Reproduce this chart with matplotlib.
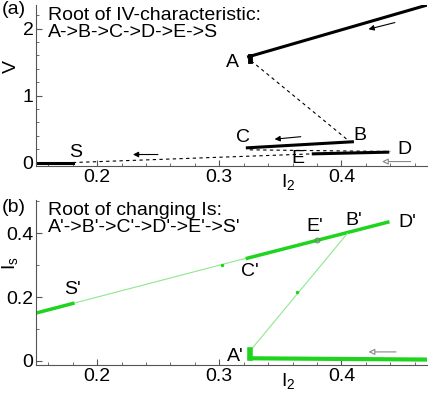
"""IV-characteristic root and changing Is root, two stacked panels."""
import matplotlib
matplotlib.use("Agg")
import matplotlib.pyplot as plt
from matplotlib.ticker import MultipleLocator

plt.rcParams.update({
    "font.family": "sans-serif",
    "font.sans-serif": ["Liberation Sans", "DejaVu Sans"],
    "font.size": 14,
    "mathtext.default": "regular",
})

GREEN = "#1ed41e"
LIGHT = "#8ee88e"

# ---- panel (a): V vs I2 ----
a_AU_x = [0.324, 0.47]          # upper branch from A
a_AU_y = [1.58, 2.35]
a_Ablob_x = [0.325, 0.325]
a_Ablob_y = [1.51, 1.59]
a_AB_x = [0.326, 0.405]         # dashed jump A -> B
a_AB_y = [1.52, 0.34]
a_CB_x = [0.323, 0.409]         # solid C - B
a_CB_y = [0.22, 0.31]
a_CD_x = [0.325, 0.44]          # dashed C -> D
a_CD_y = [0.19, 0.165]
a_ED_x = [0.377, 0.438]         # solid E - D
a_ED_y = [0.13, 0.155]
a_SE_x = [0.18, 0.377]          # dashed S -> E
a_SE_y = [0.0, 0.13]
a_S_x = [0.15, 0.18]            # solid S
a_S_y = [0.0, 0.0]
a_labels = ["A", "B", "C", "D", "E", "S"]
a_lab_x = [0.311, 0.415, 0.319, 0.452, 0.364, 0.182]
a_lab_y = [1.50, 0.40, 0.37, 0.20, 0.06, 0.15]
a_arrows = [((0.446, 2.10), (0.420, 1.98)),
            ((0.369, 0.39), (0.343, 0.345)),
            ((0.252, 0.12), (0.227, 0.12))]
a_open_arrow = ((0.459, 0.015), (0.431, 0.015))

# ---- panel (b): Is vs I2 ----
b_thin_x = [0.15, 0.325]        # thin line S' -> C'
b_thin_y = [0.15, 0.325]
b_S_x = [0.15, 0.18]
b_S_y = [0.15, 0.18]
b_CD_x = [0.323, 0.438]         # thick C' -> D'
b_CD_y = [0.322, 0.435]
b_BA_x = [0.405, 0.326]         # thin B' -> A'
b_BA_y = [0.40, 0.035]
b_Ablob_x = [0.325, 0.325]
b_Ablob_y = [0.008, 0.035]
b_A_x = [0.325, 0.47]           # thick bottom branch
b_A_y = [0.008, 0.004]
b_E_pt = (0.380, 0.380)
b_mid_x = [0.302, 0.364]        # small dots on the thin lines
b_mid_y = [0.302, 0.215]
b_labels = ["A'", "B'", "C'", "D'", "E'", "S'"]
b_lab_x = [0.313, 0.410, 0.325, 0.454, 0.378, 0.18]
b_lab_y = [0.015, 0.44, 0.28, 0.435, 0.42, 0.225]
b_open_arrow = ((0.447, 0.028), (0.420, 0.028))

fig = plt.figure(figsize=(4.36, 3.95), dpi=100)
ax1 = fig.add_axes([0.083, 0.580, 0.896, 0.407])
ax2 = fig.add_axes([0.083, 0.076, 0.896, 0.418])

# panel (a)
ax1.plot(a_AU_x, a_AU_y, color="black", lw=2.2)
ax1.plot(a_Ablob_x, a_Ablob_y, color="black", lw=3.5)
ax1.plot(a_AB_x, a_AB_y, color="black", lw=0.8, ls=(0, (3, 3)))
ax1.plot(a_CB_x, a_CB_y, color="black", lw=2.2)
ax1.plot(a_CD_x, a_CD_y, color="black", lw=0.8, ls=(0, (3, 3)))
ax1.plot(a_ED_x, a_ED_y, color="black", lw=2.2)
ax1.plot(a_SE_x, a_SE_y, color="black", lw=0.8, ls=(0, (3, 3)))
ax1.plot(a_S_x, a_S_y, color="black", lw=2.2)
for t, x, y in zip(a_labels, a_lab_x, a_lab_y):
    ax1.text(x, y, t, ha="center", va="center")
for start, end in a_arrows:
    ax1.annotate("", xy=end, xytext=start,
                 arrowprops=dict(arrowstyle="-|>", color="black", lw=0.8,
                                 mutation_scale=8))
ax1.annotate("", xy=a_open_arrow[1], xytext=a_open_arrow[0],
             arrowprops=dict(arrowstyle="-|>", color="#888888", fc="white",
                             lw=0.8, mutation_scale=9))

ax1.set_xlim(0.15, 0.47)
ax1.set_ylim(-0.05, 2.35)
ax1.yaxis.set_major_locator(MultipleLocator(1))
ax1.yaxis.set_minor_locator(MultipleLocator(0.2))
ax1.set_ylabel("V")
ax1.text(0.03, 0.99, "Root of IV-characteristic:\nA->B->C->D->E->S",
         transform=ax1.transAxes, ha="left", va="top", linespacing=1.0)

# panel (b)
ax2.plot(b_thin_x, b_thin_y, color=LIGHT, lw=0.8)
ax2.plot(b_S_x, b_S_y, color=GREEN, lw=2.5)
ax2.plot(b_CD_x, b_CD_y, color=GREEN, lw=2.5)
ax2.plot(b_BA_x, b_BA_y, color=LIGHT, lw=0.8)
ax2.plot(b_Ablob_x, b_Ablob_y, color=GREEN, lw=4)
ax2.plot(b_A_x, b_A_y, color=GREEN, lw=3)
ax2.plot(b_mid_x, b_mid_y, ls="none", marker="o", ms=1.5, color=GREEN)
ax2.plot(*b_E_pt, marker="o", ms=3.5, mfc="none", mec="#777777", mew=0.7)
for t, x, y in zip(b_labels, b_lab_x, b_lab_y):
    ax2.text(x, y, t, ha="center", va="center")
ax2.annotate("", xy=b_open_arrow[1], xytext=b_open_arrow[0],
             arrowprops=dict(arrowstyle="-|>", color="#888888", fc="white",
                             lw=0.8, mutation_scale=9))

ax2.set_xlim(0.15, 0.47)
ax2.set_ylim(-0.013, 0.505)
ax2.yaxis.set_major_locator(MultipleLocator(0.2))
ax2.yaxis.set_minor_locator(MultipleLocator(0.1))
ax2.set_ylabel("$I_s$")
ax2.text(0.03, 0.99, "Root of changing Is:\nA'->B'->C'->D'->E'->S'",
         transform=ax2.transAxes, ha="left", va="top", linespacing=1.0)

for ax in (ax1, ax2):
    ax.xaxis.set_major_locator(MultipleLocator(0.1))
    ax.xaxis.set_minor_locator(MultipleLocator(0.02))
    ax.xaxis.set_major_formatter(plt.FuncFormatter(lambda v, p: f"{v:.1f}"))
    ax.spines["top"].set_visible(False)
    ax.spines["right"].set_visible(False)
    ax.spines["left"].set_color("#555555")
    ax.spines["bottom"].set_color("#555555")
    ax.tick_params(which="both", direction="in", color="#555555", pad=2)
    ax.tick_params(which="major", length=4)
    ax.tick_params(which="minor", length=2.5)
    ax.set_xlabel("$I_2$")
    ax.yaxis.set_label_coords(-0.042, 0.62)
    ax.xaxis.set_label_coords(0.645, -0.035)
    ax.xaxis.label.set_va("top")

ax1.yaxis.set_major_formatter(plt.FuncFormatter(lambda v, p: f"{v:.0f}"))
ax2.yaxis.set_major_formatter(plt.FuncFormatter(lambda v, p: "0" if v == 0 else f"{v:.1f}"))

fig.text(0.003, 0.997, "(a)", ha="left", va="top")
fig.text(0.003, 0.497, "(b)", ha="left", va="top")

fig.savefig("out.png", dpi=100, facecolor="white")
plt.close(fig)
